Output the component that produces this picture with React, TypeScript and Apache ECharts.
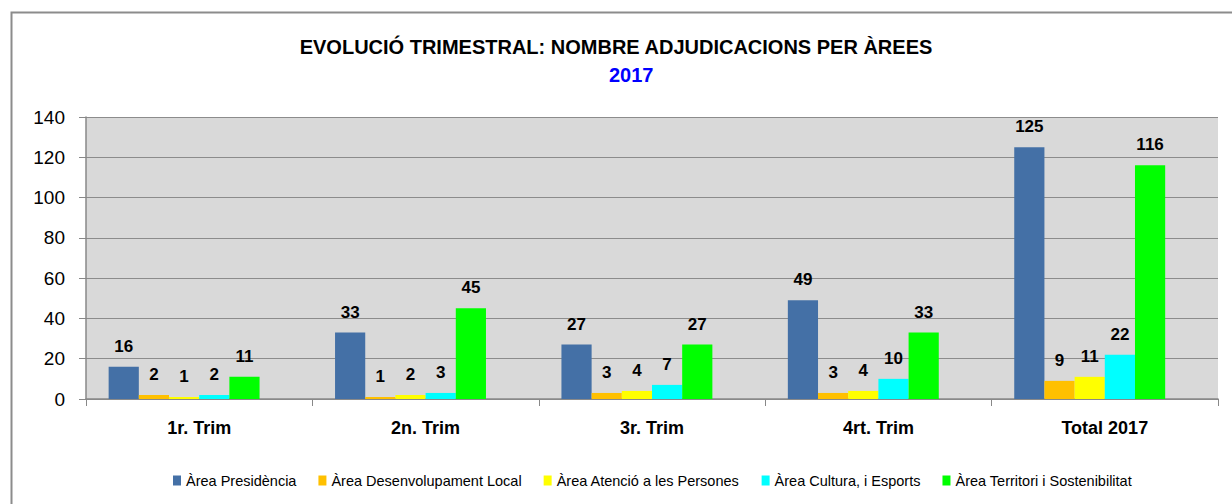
import React, { useEffect, useRef } from "react";
import * as echarts from "echarts";

const categories = ["1r. Trim", "2n. Trim", "3r. Trim", "4rt. Trim", "Total 2017"];
const seriesNames = [
  "Àrea Presidència",
  "Àrea Desenvolupament Local",
  "Àrea Atenció a les Persones",
  "Àrea Cultura, i Esports",
  "Àrea Territori i Sostenibilitat",
];
const presidencia = [16, 33, 27, 49, 125];
const desenvolupament = [2, 1, 3, 3, 9];
const atencio = [1, 2, 4, 4, 11];
const cultura = [2, 3, 7, 10, 22];
const territori = [11, 45, 27, 33, 116];
// empty slot that Excel leaves to the right of each group
const emptySlot = [null, null, null, null, null];
const yTicks = { min: 0, max: 140, interval: 20 };
const colors = ["#4470A6", "#FFC000", "#FFFF00", "#00FFFF", "#00FF00"];

const FONT = "'Liberation Sans', Arial, sans-serif";

export default function App() {
  const ref = useRef<HTMLDivElement>(null);
  useEffect(() => {
    if (!ref.current) return;
    const chart = echarts.init(ref.current, undefined, { renderer: "svg" });
    const data = [presidencia, desenvolupament, atencio, cultura, territori];
    const series: any[] = seriesNames.map((name, i) => ({
      name,
      type: "bar",
      data: data[i],
      barGap: "0%",
      barCategoryGap: "20%",
      itemStyle: { color: colors[i] },
      label: {
        show: true,
        position: "top",
        distance: 12,
        fontFamily: FONT,
        fontSize: 17,
        fontWeight: "bold",
        color: "#000",
      },
    }));
    series.push({
      name: "_empty",
      type: "bar",
      data: emptySlot,
      barGap: "0%",
      barCategoryGap: "20%",
      silent: true,
      itemStyle: { color: "transparent" },
    });
    chart.setOption({
      animation: false,
      backgroundColor: "#FFFFFF",
      textStyle: { fontFamily: FONT },
      title: [
        {
          text: "EVOLUCIÓ TRIMESTRAL: NOMBRE ADJUDICACIONS PER ÀREES",
          left: "center",
          top: 32,
          textStyle: { fontFamily: FONT, fontSize: 20, fontWeight: "bold", color: "#000" },
        },
        {
          text: "2017",
          left: 604,
          top: 60,
          textStyle: { fontFamily: FONT, fontSize: 20, fontWeight: "bold", color: "#0000FF" },
        },
      ],
      graphic: [
        {
          type: "rect",
          left: 9,
          top: 10,
          shape: { width: 1260, height: 520 },
          style: { fill: "none", stroke: "#8C8C8C", lineWidth: 2 },
          silent: true,
        },
      ],
      legend: {
        left: 168,
        top: 468,
        itemWidth: 8,
        itemHeight: 10,
        itemGap: 22,
        icon: "rect",
        textStyle: { fontFamily: FONT, fontSize: 14.5, color: "#000" },
        data: seriesNames,
      },
      grid: {
        left: 86,
        right: 14,
        top: 117,
        bottom: 105,
        show: true,
        backgroundColor: "#D9D9D9",
        borderWidth: 0,
      },
      xAxis: {
        type: "category",
        data: categories,
        axisLine: { show: true, lineStyle: { color: "#888888", width: 1.5 } },
        axisTick: { show: true, length: 7, lineStyle: { color: "#888888" } },
        axisLabel: {
          margin: 20,
          fontFamily: FONT,
          fontSize: 18,
          fontWeight: "bold",
          color: "#000",
        },
      },
      yAxis: {
        type: "value",
        min: yTicks.min,
        max: yTicks.max,
        interval: yTicks.interval,
        axisLine: { show: true, lineStyle: { color: "#888888", width: 1.5 } },
        axisTick: { show: true, length: 7, lineStyle: { color: "#888888" } },
        axisLabel: { margin: 21, fontFamily: FONT, fontSize: 19, color: "#000" },
        splitLine: { show: true, lineStyle: { color: "#8C8C8C", width: 1 } },
      },
      series,
    });
    return () => chart.dispose();
  }, []);
  return (
    <div
      ref={ref}
      style={{ position: "fixed", left: 0, top: 0, width: 1232, height: 504 }}
    />
  );
}
